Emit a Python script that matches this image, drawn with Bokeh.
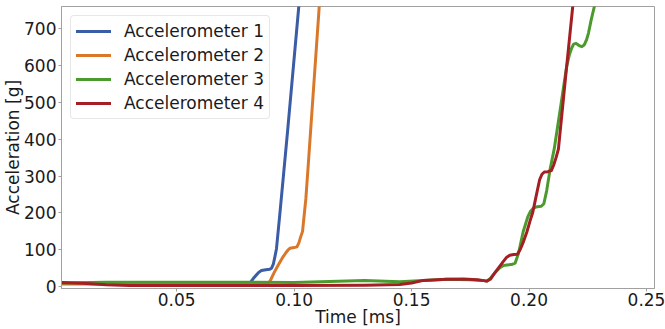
from bokeh.plotting import figure
from bokeh.models import Range1d, FixedTicker, NumeralTickFormatter
from bokeh.embed import file_html
from bokeh.resources import INLINE

# ---- data (time in ms, acceleration in g) ----
t1 = [0.001, 0.02, 0.05, 0.0805, 0.0815, 0.083, 0.0848, 0.0861, 0.0880, 0.0895, 0.0904,
      0.0912, 0.0918, 0.0925, 0.0939, 0.0953, 0.0972, 0.1020, 0.104]
a1 = [8, 8, 8, 8, 12, 25, 38, 44, 46, 47, 50,
      62, 80, 103, 195, 290, 420, 760, 900]

t2 = [0.001, 0.03, 0.06, 0.0889, 0.0900, 0.0915, 0.0932, 0.0950, 0.0965, 0.0975, 0.0982,
      0.1000, 0.1012, 0.1020, 0.1028, 0.1036, 0.1050, 0.1060, 0.1107, 0.113]
a2 = [8, 8, 8, 8, 18, 38, 58, 78, 92, 100, 104,
      106, 108, 118, 135, 150, 238, 328, 760, 900]

t3 = [0.001, 0.02, 0.05, 0.08, 0.10, 0.115, 0.13, 0.145, 0.155, 0.165, 0.175, 0.180,
      0.182, 0.1835, 0.1855, 0.1877, 0.189, 0.1905, 0.1925, 0.1941, 0.1955, 0.1975,
      0.1995, 0.2005, 0.2018, 0.2035, 0.2052, 0.2063, 0.2075, 0.2090, 0.2107, 0.2135,
      0.2160, 0.2172, 0.2182, 0.2190, 0.2200, 0.2213, 0.2225, 0.2235, 0.2245, 0.2253,
      0.2265, 0.2278, 0.229]
a3 = [10, 12, 12, 12, 11, 14, 17, 13, 17, 20, 19, 17,
      15, 22, 38, 52, 57, 59, 60, 64, 90, 149,
      190, 203, 213, 217, 218, 225, 260, 320, 373, 490,
      597, 630, 648, 658, 660, 654, 651, 656, 670, 688,
      725, 760, 850]

t4 = [0.001, 0.01, 0.02, 0.03, 0.06, 0.10, 0.13, 0.145, 0.150, 0.155, 0.165, 0.172, 0.178,
      0.180, 0.182, 0.1835, 0.1855, 0.1875, 0.1890, 0.1905, 0.1918, 0.1935, 0.1950,
      0.1962, 0.1975, 0.1991, 0.2005, 0.2016, 0.2030, 0.2045, 0.2055, 0.2065, 0.2080,
      0.2095, 0.2105, 0.2115, 0.2125, 0.2155, 0.2186, 0.220]
a4 = [11, 9, 5, 3, 3, 3, 4, 6, 10, 17, 20, 21, 19,
      17, 15, 20, 38, 55, 68, 80, 85, 87, 88,
      100, 120, 149, 180, 202, 245, 290, 305, 311, 312,
      315, 330, 350, 373, 565, 760, 850]

series = [
    (t1, a1, "Accelerometer 1", "#3a5da6"),
    (t2, a2, "Accelerometer 2", "#d9782b"),
    (t3, a3, "Accelerometer 3", "#4c9a2e"),
    (t4, a4, "Accelerometer 4", "#a31f24"),
]

x_ticks = [0.05, 0.10, 0.15, 0.20, 0.25]
y_ticks = [0, 100, 200, 300, 400, 500, 600, 700]
x_min, x_max = 0.001, 0.2534
y_min, y_max = -5, 760

FONT = "DejaVu Sans"
FS = "17px"

p = figure(width=665, height=329, output_backend="svg", toolbar_location=None,
           x_range=Range1d(x_min, x_max), y_range=Range1d(y_min, y_max),
           min_border_left=61, min_border_right=11, min_border_top=6, min_border_bottom=0)

for t, a, name, col in series:
    p.line(t, a, line_width=3, color=col, legend_label=name,
           line_join="round", line_cap="round")

p.xgrid.visible = False
p.ygrid.visible = False
p.background_fill_color = "white"
p.border_fill_color = "white"
p.outline_line_color = "#a0a0a0"
p.outline_line_width = 1

for ax in (p.xaxis[0], p.yaxis[0]):
    ax.axis_line_color = "#a0a0a0"
    ax.major_tick_line_color = "#a0a0a0"
    ax.major_tick_out = 3
    ax.major_tick_in = 0
    ax.minor_tick_line_color = None
    ax.major_label_text_font = FONT
    ax.major_label_text_font_size = FS
    ax.major_label_text_color = "#1a1a1a"
    ax.axis_label_text_font = FONT
    ax.axis_label_text_font_size = FS
    ax.axis_label_text_font_style = "normal"
    ax.axis_label_text_color = "#1a1a1a"

p.xaxis[0].major_label_standoff = 1
p.xaxis[0].axis_label_standoff = -2
p.yaxis[0].major_label_standoff = 2
p.yaxis[0].axis_label_standoff = -2

p.xaxis[0].ticker = FixedTicker(ticks=x_ticks)
p.xaxis[0].formatter = NumeralTickFormatter(format="0.00")
p.yaxis[0].ticker = FixedTicker(ticks=y_ticks)
p.xaxis[0].axis_label = "Time [ms]"
p.yaxis[0].axis_label = "Acceleration [g]"

lg = p.legend[0]
lg.location = "top_left"
lg.margin = 9
lg.padding = 5
lg.spacing = 4
lg.glyph_width = 35
lg.glyph_height = 20
lg.label_standoff = 13
lg.label_text_font = FONT
lg.label_text_font_size = FS
lg.label_text_color = "#1a1a1a"
lg.border_line_color = "#d0d0d0"
lg.border_line_width = 1
lg.border_radius = 4
lg.background_fill_alpha = 0.8

open("out.html", "w").write(file_html(p, INLINE))
